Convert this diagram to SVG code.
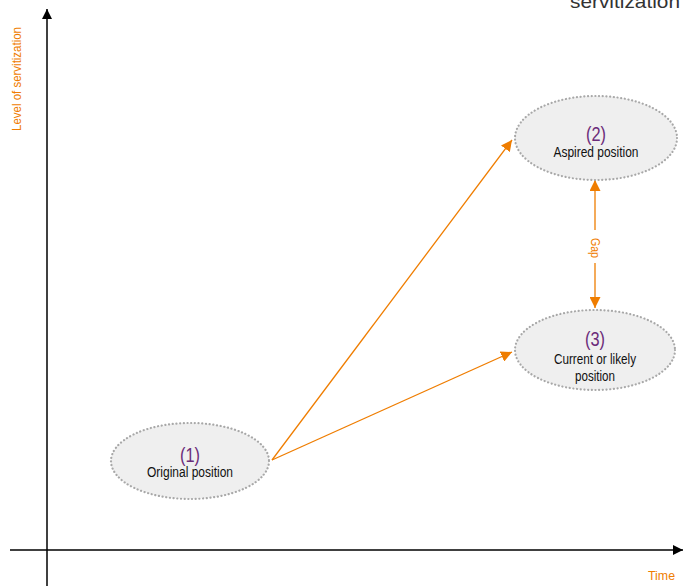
<svg xmlns="http://www.w3.org/2000/svg" width="683" height="586" viewBox="0 0 683 586">
  <style>
    .axis { stroke: #000; stroke-width: 1.5; fill: none; }
    .link { stroke: #ef7d00; stroke-width: 1.3; fill: none; }
    .node { fill: #efefef; stroke: #a8a8a8; stroke-width: 2.2; stroke-dasharray: 0.1 3.6; stroke-linecap: round; }
    .num { font-family: "Liberation Sans", Arial, sans-serif; font-size: 19.5px; fill: #6b2c7a; text-anchor: middle; }
    .lbl { font-family: "Liberation Sans", Arial, sans-serif; font-size: 14px; fill: #111; text-anchor: middle; }
    .orange { font-family: "Liberation Sans", Arial, sans-serif; font-size: 13.5px; fill: #ef7d00; }
  </style>
  <defs>
    <marker id="blackHead" viewBox="0 0 10 10" refX="10" refY="5" markerWidth="10" markerHeight="10" markerUnits="userSpaceOnUse" orient="auto">
      <path d="M0,0 L10,5 L0,10 Z" fill="#000"/>
    </marker>
    <marker id="orangeHead" viewBox="0 0 10 10" refX="10" refY="5" markerWidth="11" markerHeight="11" markerUnits="userSpaceOnUse" orient="auto">
      <path d="M0,0 L10,5 L0,10 Z" fill="#ef7d00"/>
    </marker>
  </defs>

  <text x="680" y="8" font-family="Liberation Sans, Arial, sans-serif" font-size="19" fill="#333" text-anchor="end" textLength="110" lengthAdjust="spacingAndGlyphs">servitization</text>

  <g id="axes">
    <line class="axis" x1="47" y1="586" x2="47" y2="9" marker-end="url(#blackHead)"/>
    <line class="axis" x1="10" y1="550" x2="683" y2="550" marker-end="url(#blackHead)"/>
    <text class="orange" transform="translate(21,131) rotate(-90)" textLength="104" lengthAdjust="spacingAndGlyphs">Level of servitization</text>
    <text class="orange" x="648" y="580" textLength="27" lengthAdjust="spacingAndGlyphs">Time</text>
  </g>

  <g id="connectors">
    <line class="link" x1="272" y1="460" x2="512" y2="140" marker-end="url(#orangeHead)"/>
    <line class="link" x1="272" y1="460" x2="512" y2="352" marker-end="url(#orangeHead)"/>
    <line class="link" x1="595" y1="230" x2="595" y2="180" marker-end="url(#orangeHead)"/>
    <line class="link" x1="595" y1="263" x2="595" y2="308" marker-end="url(#orangeHead)"/>
    <text class="orange" text-anchor="middle" transform="translate(591,248) rotate(90)" textLength="20" lengthAdjust="spacingAndGlyphs">Gap</text>
  </g>

  <g id="node1">
    <ellipse class="node" cx="190" cy="461" rx="79" ry="38"/>
    <text class="num" x="190" y="462" textLength="20" lengthAdjust="spacingAndGlyphs">(1)</text>
    <text class="lbl" x="190" y="477" textLength="86" lengthAdjust="spacingAndGlyphs">Original position</text>
  </g>

  <g id="node2">
    <ellipse class="node" cx="596" cy="138" rx="81" ry="42"/>
    <text class="num" x="596" y="141" textLength="20" lengthAdjust="spacingAndGlyphs">(2)</text>
    <text class="lbl" x="596" y="157" textLength="85" lengthAdjust="spacingAndGlyphs">Aspired position</text>
  </g>

  <g id="node3">
    <ellipse class="node" cx="595" cy="350" rx="80" ry="40"/>
    <text class="num" x="595" y="346" textLength="20" lengthAdjust="spacingAndGlyphs">(3)</text>
    <text class="lbl" x="595" y="364" textLength="82" lengthAdjust="spacingAndGlyphs">Current or likely</text>
    <text class="lbl" x="595" y="381" textLength="40" lengthAdjust="spacingAndGlyphs">position</text>
  </g>
</svg>
